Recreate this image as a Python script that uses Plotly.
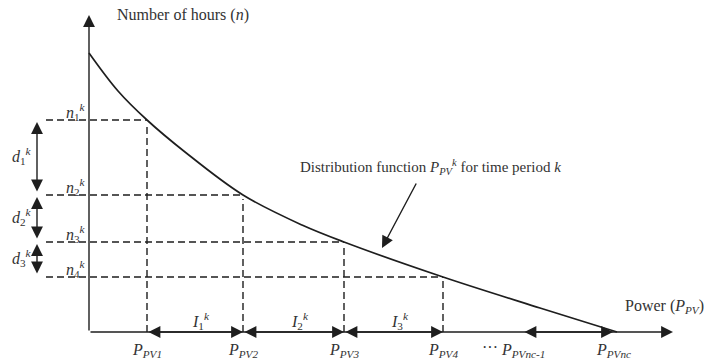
import plotly.graph_objects as go

# Discretised power levels (x) and the hours at which the curve crosses them (y)
power_levels = [58, 154, 255, 354]          # P_PV1 .. P_PV4
hours_levels = [212, 137, 90, 55]           # n_1^k .. n_4^k
p_nc_minus_1 = 434                          # P_PVnc-1
p_nc = 524                                  # P_PVnc

# Distribution curve samples
curve_power = [0, 29, 58, 96, 154, 213, 255, 354, 451, 528]
curve_hours = [279, 241, 212, 180, 137, 107, 90, 55, 24, 0]

axis_x_end = 584
axis_y_end = 317
d_axis_x = -52
dash_start_x = -47

power_labels = ["<i>P</i><sub><i>PV1</i></sub>", "<i>P</i><sub><i>PV2</i></sub>",
                "<i>P</i><sub><i>PV3</i></sub>", "<i>P</i><sub><i>PV4</i></sub>"]
n_labels = ["<i>n</i><sub>1</sub><sup><i>k</i></sup>", "<i>n</i><sub>2</sub><sup><i>k</i></sup>",
            "<i>n</i><sub>3</sub><sup><i>k</i></sup>", "<i>n</i><sub>4</sub><sup><i>k</i></sup>"]
d_labels = ["<i>d</i><sub>1</sub><sup><i>k</i></sup>", "<i>d</i><sub>2</sub><sup><i>k</i></sup>",
            "<i>d</i><sub>3</sub><sup><i>k</i></sup>"]
i_labels = ["<i>I</i><sub>1</sub><sup><i>k</i></sup>", "<i>I</i><sub>2</sub><sup><i>k</i></sup>",
            "<i>I</i><sub>3</sub><sup><i>k</i></sup>"]

INK = "#1e1e1e"
TXT = "#333333"
FONT = "Liberation Serif"

fig = go.Figure()

# distribution curve
fig.add_trace(go.Scatter(x=curve_power, y=curve_hours, mode="lines",
                         line=dict(color=INK, width=1.7, shape="spline", smoothing=1.0),
                         hoverinfo="skip"))

# dashed guides
for p, h in zip(power_levels, hours_levels):
    fig.add_trace(go.Scatter(x=[dash_start_x + 4, p], y=[h, h], mode="lines",
                             line=dict(color=INK, width=1.4, dash="7px,4px"), hoverinfo="skip"))
    fig.add_trace(go.Scatter(x=[p, p], y=[0, h - 4], mode="lines",
                             line=dict(color=INK, width=1.4, dash="7px,4px"), hoverinfo="skip"))

annotations = []

def arrow(x, y, ax, ay, side="end", size=1.7):
    annotations.append(dict(x=x, y=y, ax=ax, ay=ay, xref="x", yref="y", axref="x", ayref="y",
                            text="", showarrow=True, arrowhead=2, arrowsize=size,
                            arrowwidth=1.4, arrowcolor=INK, arrowside=side,
                            startarrowhead=2, startarrowsize=size, standoff=0, startstandoff=0))

def label(x, y, text, size=16, xanchor="center", family=FONT):
    annotations.append(dict(x=x, y=y, xref="x", yref="y", text=text, showarrow=False,
                            xanchor=xanchor, yanchor="middle",
                            font=dict(family=family, size=size, color=TXT)))

# main axes
arrow(axis_x_end, 0, 0, 0)
arrow(0, axis_y_end, 0, 0)

# arrowheads at the left ends of horizontal guides and tops of vertical guides
for p, h in zip(power_levels, hours_levels):
    arrow(dash_start_x, h, dash_start_x + 2, h)
    arrow(p, h, p, h - 2)

# d_i^k double arrows
for i in range(3):
    arrow(d_axis_x, hours_levels[i] - 2, d_axis_x, hours_levels[i + 1] + 2, side="end+start")

# I_i^k double arrows along the power axis
for i in range(3):
    arrow(power_levels[i + 1], 0, power_levels[i], 0, side="end+start")
arrow(p_nc, 0, p_nc_minus_1, 0, side="end+start")

# labels
for p, t in zip(power_levels, power_labels):
    label(p, -18, t)
label(p_nc_minus_1, -18, "<i>P</i><sub><i>PVnc-1</i></sub>")
label(p_nc, -18, "<i>P</i><sub><i>PVnc</i></sub>")
label(401, -15, "···")

for h, t in zip(hours_levels, n_labels):
    label(-13, h + 8, t)
for i, t in enumerate(d_labels):
    label(-67, (hours_levels[i] + hours_levels[i + 1]) / 2 + 2, t)
for i, t in enumerate(i_labels):
    label((power_levels[i] + power_levels[i + 1]) / 2 + 6, 11, t)

label(26, 317, "Number of hours (<i>n</i>)", xanchor="left")
label(534, 26, "Power (<i>P</i><sub><i>PV</i></sub>)", xanchor="left")
label(209, 165, "Distribution function <i>P</i><sub><i>PV</i></sub><sup><i>k</i></sup> for time period <i>k</i>",
      xanchor="left", size=15)

# pointer from the caption to the curve
arrow(293, 84, 328, 150)

fig.update_layout(
    width=706, height=362, margin=dict(l=0, r=0, t=0, b=0),
    paper_bgcolor="white", plot_bgcolor="white", showlegend=False,
    xaxis=dict(range=[-89, 617], visible=False, fixedrange=True),
    yaxis=dict(range=[-30, 332], visible=False, fixedrange=True),
    annotations=annotations,
)

fig.write_html("out.html")
